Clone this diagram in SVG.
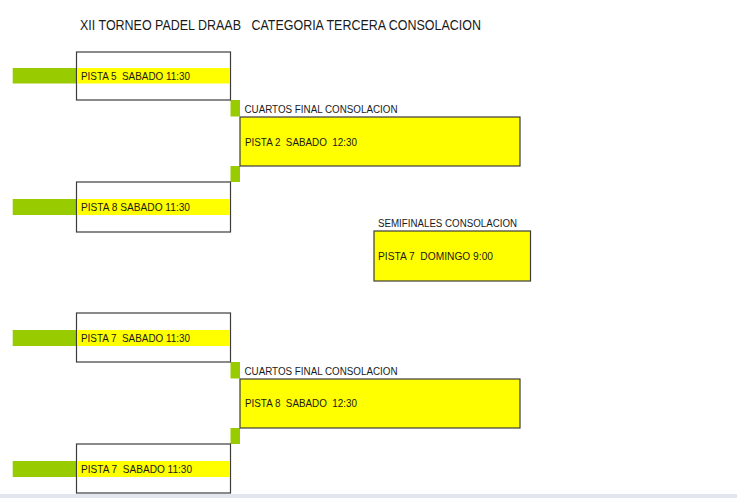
<svg xmlns="http://www.w3.org/2000/svg" width="737" height="498" viewBox="0 0 737 498">
<style>
.t{font-family:"Liberation Sans",Arial,sans-serif;fill:#1a1a1a;white-space:pre}
.title{font-size:14px}
.lbl{font-size:10.5px}
.hdr{font-size:10px}
.box{fill:#ffffff;stroke:#3c3c3c;stroke-width:1.2}
.ybox{fill:#ffff00;stroke:#3c3c3c;stroke-width:1.2}
.band{fill:#ffff00}
.g{fill:#99cc00}
</style>
<rect x="0" y="0" width="737" height="498" fill="#ffffff"/>
<rect x="0" y="494" width="737" height="4" fill="#e3e5ef"/>
<text class="t title" x="80" y="30" textLength="401" lengthAdjust="spacingAndGlyphs" xml:space="preserve">XII TORNEO PADEL DRAAB   CATEGORIA TERCERA CONSOLACION</text>

<g id="connectors">
<rect class="g" x="12.7" y="68" width="64" height="15.5"/>
<rect class="g" x="12.7" y="199" width="64" height="16"/>
<rect class="g" x="12.7" y="330" width="64" height="16"/>
<rect class="g" x="12.7" y="461" width="64" height="16"/>
<rect class="g" x="230.5" y="100" width="9.5" height="16.5"/>
<rect class="g" x="230.5" y="166" width="9.5" height="16"/>
<rect class="g" x="230.5" y="362" width="9.5" height="16.5"/>
<rect class="g" x="230.5" y="428" width="9.5" height="16"/>
</g>

<g id="m1">
<rect class="box" x="76.5" y="52" width="154" height="48"/>
<rect class="band" x="77" y="68" width="153" height="15.5"/>
<text class="t lbl" x="81" y="80" textLength="109" lengthAdjust="spacingAndGlyphs" xml:space="preserve">PISTA 5  SABADO 11:30</text>
</g>

<g id="m2">
<rect class="box" x="76.5" y="182" width="154" height="50"/>
<rect class="band" x="77" y="199" width="153" height="16"/>
<text class="t lbl" x="81" y="211" textLength="109" lengthAdjust="spacingAndGlyphs" xml:space="preserve">PISTA 8 SABADO 11:30</text>
</g>

<g id="m3">
<rect class="box" x="76.5" y="313" width="154" height="49"/>
<rect class="band" x="77" y="330" width="153" height="16"/>
<text class="t lbl" x="81" y="342" textLength="109" lengthAdjust="spacingAndGlyphs" xml:space="preserve">PISTA 7  SABADO 11:30</text>
</g>

<g id="m4">
<rect class="box" x="76.5" y="444" width="154" height="49"/>
<rect class="band" x="77" y="461" width="153" height="16"/>
<text class="t lbl" x="81" y="473" textLength="111" lengthAdjust="spacingAndGlyphs" xml:space="preserve">PISTA 7  SABADO 11:30</text>
</g>

<g id="qf1">
<text class="t hdr" x="244.5" y="113" textLength="153" lengthAdjust="spacingAndGlyphs">CUARTOS FINAL CONSOLACION</text>
<rect class="ybox" x="240" y="117" width="280" height="49"/>
<text class="t lbl" x="245" y="146" textLength="112" lengthAdjust="spacingAndGlyphs" xml:space="preserve">PISTA 2  SABADO  12:30</text>
</g>

<g id="qf2">
<text class="t hdr" x="244.5" y="375" textLength="153" lengthAdjust="spacingAndGlyphs">CUARTOS FINAL CONSOLACION</text>
<rect class="ybox" x="240" y="379" width="280" height="49"/>
<text class="t lbl" x="245" y="407" textLength="112" lengthAdjust="spacingAndGlyphs" xml:space="preserve">PISTA 8  SABADO  12:30</text>
</g>

<g id="sf">
<text class="t hdr" x="378" y="227" textLength="139" lengthAdjust="spacingAndGlyphs">SEMIFINALES CONSOLACION</text>
<rect class="ybox" x="374" y="231" width="156.5" height="50"/>
<text class="t lbl" x="378" y="260" textLength="115" lengthAdjust="spacingAndGlyphs" xml:space="preserve">PISTA 7  DOMINGO 9:00</text>
</g>
</svg>
